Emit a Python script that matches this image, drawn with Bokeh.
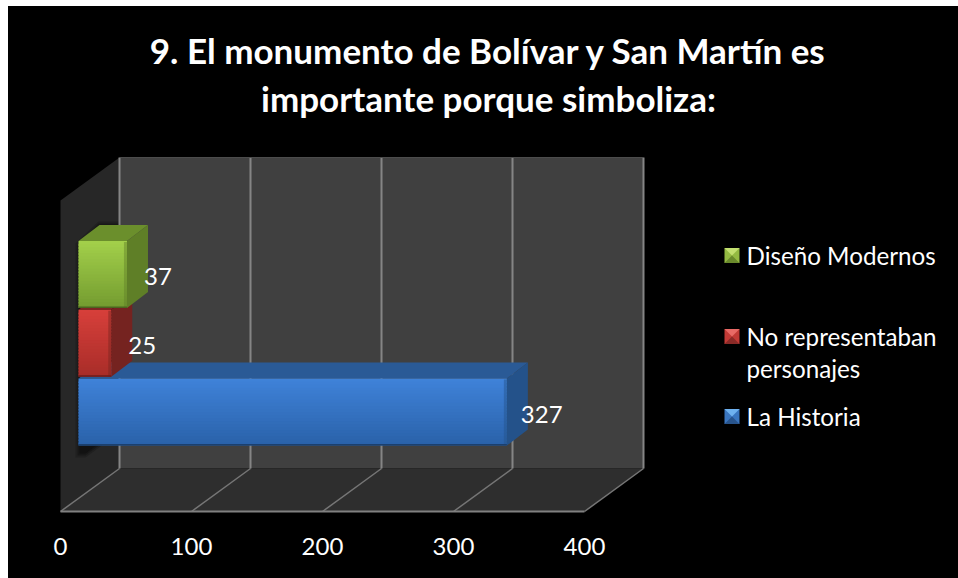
from bokeh.plotting import figure
from bokeh.models import Range1d, FixedTicker
from bokeh.core.properties import value
from bokeh.embed import file_html
from bokeh.resources import INLINE

# ---- data
title_lines = ["9. El monumento de Bolívar y San Martín es", "importante porque simboliza:"]
categories = ["La Historia", "No representaban personajes", "Diseño Modernos"]
values = [327, 25, 37]
tick_values = [0, 100, 200, 300, 400]
legend_lines = [["Diseño Modernos"], ["No representaban", "personajes"], ["La Historia"]]

# ---- colours per series: front top, front bottom, top face, side face
front_top = ["#3f82d8", "#d63f3a", "#a2cf4a"]
front_bot = ["#2a62aa", "#a92d29", "#749c30"]
top_face = ["#2a5a96", "#7f2623", "#6b8f2c"]
side_face = ["#24528a", "#752320", "#5f7f27"]
legend_light = ["#6fb2f0", "#e96a66", "#c3e070"]
legend_mid = ["#3a76c0", "#c23a36", "#94ba42"]
legend_dark = ["#28548c", "#8a2a27", "#6a8a2c"]

# ---- layout (page pixels); y data are page pixels, x data are chart values
PX = 1.31            # pixels per value unit
X0 = 60              # page x of value 0 on the front edge
FRONT_Y = 511
BACK_DX, BACK_DY = 59 / PX, -43
BAR_DX, BAR_DY = 21 / PX, -16
BAR_X0 = 18 / PX
WALL_TOP = 157
BAND = 68.7
BAR_H = 67
BLUE_TOP = 378

p = figure(width=950, height=572, margin=(6, 0, 0, 8),
           x_range=Range1d((8 - X0) / PX, (958 - X0) / PX),
           y_range=Range1d(525, 6),
           y_axis_location=None, toolbar_location=None, tools="",
           output_backend="svg", background_fill_color="black", border_fill_color="black",
           min_border_left=0, min_border_right=0, min_border_top=0, min_border_bottom=53,
           styles={"background-color": "black"})
p.outline_line_color = None
p.grid.visible = False

ax = p.xaxis[0]
ax.ticker = FixedTicker(ticks=tick_values)
ax.axis_line_color = None
ax.major_tick_line_color = None
ax.minor_tick_line_color = None
ax.major_label_text_color = "#ffffff"
ax.major_label_text_font = "Lato"
ax.major_label_text_font_size = "24px"
ax.major_label_standoff = 6

x_max = tick_values[-1]
wall_y0 = FRONT_Y + BACK_DY
# back wall, side wall, floor
p.patch([BACK_DX, x_max + BACK_DX, x_max + BACK_DX, BACK_DX], [WALL_TOP, WALL_TOP, wall_y0, wall_y0],
        fill_color="#404040", line_color=None)
p.patch([0, BACK_DX, BACK_DX, 0], [WALL_TOP - BACK_DY, WALL_TOP, wall_y0, FRONT_Y],
        fill_color="#272727", line_color=None)
p.patch([0, BACK_DX, x_max + BACK_DX, x_max], [FRONT_Y, wall_y0, wall_y0, FRONT_Y],
        fill_color="#2e2e2e", line_color=None)
# soft shadow on the side wall
for inset, alpha in [(0, 0.25), (2, 0.35), (4, 0.45)]:
    i = inset / PX
    p.patch([BAR_X0 - 3 / PX + i, BAR_X0 + 20 / PX, BACK_DX, BACK_DX, BAR_X0 + 7 / PX, BAR_X0 - 3 / PX + i],
            [243 + inset, 221 + inset, 221 + inset, 432 - inset, 457 - inset, 457 - inset],
            fill_color="#0c0c0c", fill_alpha=alpha, line_color=None)
# grid lines
gx = [t for t in tick_values]
p.segment(x0=gx, y0=[FRONT_Y] * 5, x1=[t + BACK_DX for t in gx], y1=[wall_y0] * 5,
          line_color="#767676", line_width=1.5)
p.segment(x0=[t + BACK_DX for t in gx], y0=[wall_y0] * 5, x1=[t + BACK_DX for t in gx], y1=[WALL_TOP] * 5,
          line_color="#858585", line_width=2)
p.segment(x0=[0], y0=[FRONT_Y], x1=[x_max], y1=[FRONT_Y], line_color="#808080", line_width=2)
p.segment(x0=[BACK_DX], y0=[WALL_TOP], x1=[x_max + BACK_DX], y1=[WALL_TOP], line_color="#4c4c4c", line_width=1)


def mix(c1, c2, t):
    a = [int(c1[i:i + 2], 16) for i in (1, 3, 5)]
    b = [int(c2[i:i + 2], 16) for i in (1, 3, 5)]
    return "#%02x%02x%02x" % tuple(round(u + (v - u) * t) for u, v in zip(a, b))


# bars, back to front
N = 22
for i, v in enumerate(values):
    top = BLUE_TOP - i * BAND
    bot = top + BAR_H
    x0, x1 = BAR_X0, BAR_X0 + v
    # top face
    p.patch([x0, x0 + BAR_DX, x1 + BAR_DX, x1], [top, top + BAR_DY, top + BAR_DY, top],
            fill_color=top_face[i], line_color=None)
    # side face
    p.patch([x1, x1 + BAR_DX, x1 + BAR_DX, x1], [top, top + BAR_DY, bot + BAR_DY, bot],
            fill_color=side_face[i], line_color=None)
    # front face as shaded strips, each overlapping the next to hide seams
    hs = [top + BAR_H * k / N for k in range(N + 1)]
    cols = [mix(front_top[i], front_bot[i], k / (N - 1)) for k in range(N)]
    p.quad(left=[x0] * N, right=[x1] * N, top=hs[:-1], bottom=[min(h + 1.5, bot) for h in hs[1:]],
           fill_color=cols, line_color=None)
    # right bevel and bottom edge of the front face
    p.quad(left=[x1 - 3 / PX], right=[x1], top=[top + 1], bottom=[bot],
           fill_color=side_face[i], fill_alpha=0.45, line_color=None)
    p.quad(left=[x0], right=[x1], top=[bot - 1.5], bottom=[bot],
           fill_color=mix(front_bot[i], "#000000", 0.35), line_color=None)

# value labels
p.text(x=[BAR_X0 + v for v in values], y=[414, 345, 276], text=[str(v) for v in values],
       x_offset=[14, 17, 17], text_color="#ffffff", text_font=value("Lato"), text_font_size="24px",
       text_align="left", text_baseline="middle")

# title
p.text(x=[(488 - X0) / PX] * 2, y=[49.5, 97.5], text=title_lines, text_color="#ffffff",
       text_font=value("Lato"), text_font_style="bold", text_font_size="35px",
       text_align="center", text_baseline="middle")

# legend
LEG_Y = [255, 336, 416]
SW = 15 / PX / 2
SX = (731.5 - X0) / PX
TX = (746 - X0) / PX
for k, yc in enumerate(LEG_Y):
    s = 2 - k  # legend runs opposite to series order
    cx0, cx1, ytop, ybot = SX - SW, SX + SW, yc - 7.5, yc + 7.5
    p.patch([cx0, cx1, cx1, cx0], [ytop, ytop, ybot, ybot], fill_color=legend_mid[s], line_color=None)
    p.patch([cx0, cx1, SX], [ytop, ytop, yc], fill_color=legend_light[s], line_color=None)
    p.patch([cx0, cx1, SX], [ybot, ybot, yc], fill_color=legend_dark[s], line_color=None)
    for j, line in enumerate(legend_lines[k]):
        p.text(x=[TX], y=[yc + j * 32], text=[line], text_color="#ffffff",
               text_font=value("Lato"), text_font_size="24.2px", text_align="left", text_baseline="middle")

open("out.html", "w").write(file_html(p, INLINE))
